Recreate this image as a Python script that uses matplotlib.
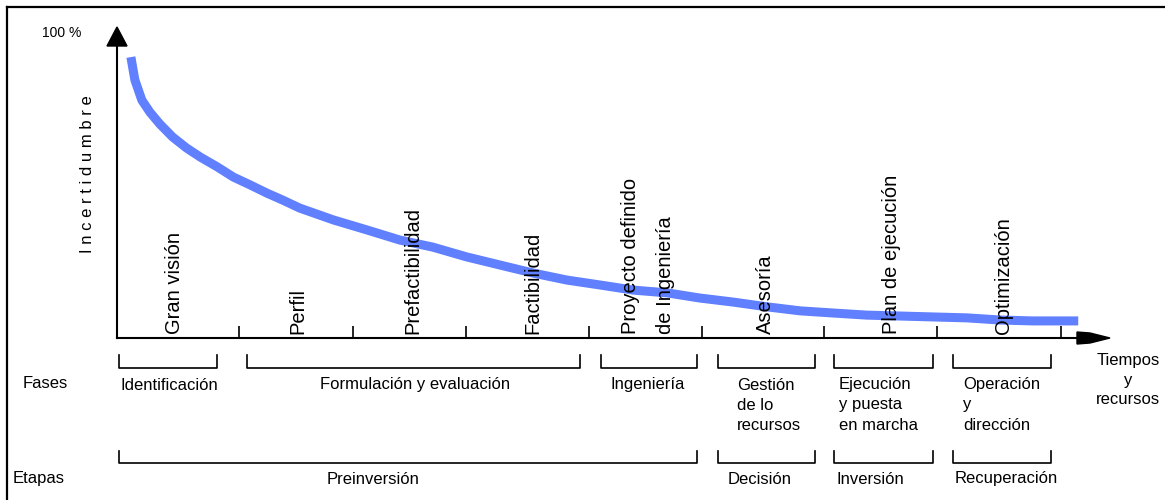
import matplotlib.pyplot as plt
from matplotlib.patches import Polygon

plt.rcParams['font.family'] = ['Liberation Sans', 'DejaVu Sans']

# Curva de incertidumbre (tiempo 0-100, incertidumbre en %)
curve_t = [1.4, 1.8, 2.5, 3.3, 4.3, 5.6, 7.0, 8.4, 10.1, 11.7, 13.4, 15.1, 16.7, 18.4,
           21.8, 25.2, 28.5, 31.8, 35.2, 38.6, 41.9, 45.3, 48.6, 52.0, 55.4, 58.7,
           62.0, 65.5, 68.8, 72.1, 75.5, 78.9, 82.2, 85.6, 88.9, 92.2, 96.8]
curve_pct = [92.1, 84.6, 78.0, 74.1, 70.2, 65.9, 62.3, 59.3, 56.1, 52.8, 50.2, 47.5, 45.2, 42.6,
             38.7, 35.4, 32.1, 29.8, 26.6, 23.9, 21.3, 19.0, 17.4, 15.7, 14.8, 13.1,
             11.8, 10.2, 8.9, 8.2, 7.5, 7.2, 6.9, 6.6, 5.9, 5.6, 5.6]

# Marcas en el eje de tiempo
tick_t = [12.3, 23.8, 35.1, 47.5, 58.9, 71.2, 82.6, 95.1]

# Etiquetas verticales sobre el eje
stage_names = ["Gran visión", "Perfil", "Prefactibilidad", "Factibilidad",
               "Proyecto definido", "de Ingeniería", "Asesoría",
               "Plan de ejecución", "Optimización"]
stage_t = [5.8, 18.2, 29.8, 41.9, 51.7, 55.2, 65.3, 78.0, 89.3]

# Fases (texto, inicio y fin de la llave en px, posición del texto, alineación)
fases = [
    (["Identificación"], 119, 217, 169, "center"),
    (["Formulación y evaluación"], 247, 580, 415, "center"),
    (["Ingeniería"], 601, 697, 648, "center"),
    (["Gestión", "de lo", "recursos"], 718, 815, 737, "left"),
    (["Ejecución", "y puesta", "en marcha"], 834, 933, 839, "left"),
    (["Operación", "y", "dirección"], 953, 1051, 963, "left"),
]
etapas = [
    ("Preinversión", 119, 697, 373),
    ("Decisión", 718, 815, 760),
    ("Inversión", 834, 933, 870),
    ("Recuperación", 953, 1051, 1006),
]

W, H = 1165, 500
fig = plt.figure(figsize=(W / 100, H / 100), dpi=100)

# capa en pixeles para marco, ejes y llaves
ov = fig.add_axes([0, 0, 1, 1])
ov.set_xlim(0, W)
ov.set_ylim(H, 0)
ov.axis("off")

# grafico principal: origen en (117, 338), 100 % en y=33
x0, x1, y0, y1 = 117, 1110, 338, 33
ax = fig.add_axes([x0 / W, (H - y0) / H, (x1 - x0) / W, (y0 - y1) / H])
ax.set_xlim(0, 100)
ax.set_ylim(0, 100)
ax.axis("off")
ax.patch.set_alpha(0)

# marco
ov.plot([7, W], [7, 7], color="black", lw=1.6)
ov.plot([7, 7], [7, H], color="black", lw=1.6)

# ejes con flechas
ov.plot([x0, x0], [y0, 44], color="black", lw=1.5)
ov.plot([x0, 1080], [y0, y0], color="black", lw=1.5)
ov.add_patch(Polygon([[107, 46], [127, 46], [117, 27]], closed=True, color="black"))
ov.add_patch(Polygon([[1077, 332], [1090, 333], [1110, 338], [1090, 343], [1077, 344]],
                     closed=True, color="black"))

# marcas
ax.vlines(tick_t, 0, 3.9, color="black", lw=1.2)

# curva
ax.plot(curve_t, curve_pct, color="#6080ff", lw=6.5, solid_capstyle="butt", zorder=3)

# etiquetas verticales
for name, t in zip(stage_names, stage_t):
    ax.text(t, 1.3, name, rotation=90, ha="center", va="bottom", fontsize=14.5, zorder=4)

ov.text(62, 33, "100 %", ha="center", va="center", fontsize=10)
ov.text(88, 174, "I n c e r t i d u m b r e", rotation=90, ha="center", va="center",
        fontsize=12)

# fases
ov.text(45, 384, "Fases", ha="center", va="center", fontsize=12)
for lines, a, b, tx, al in fases:
    ov.plot([a, a, b, b], [355, 368, 368, 355], color="black", lw=1.2)
    for i, line in enumerate(lines):
        ov.text(tx, 385 + 20 * i, line, ha=al, va="center", fontsize=12)

for i, line in enumerate(["Tiempos", "y", "recursos"]):
    ov.text(1128, 360 + 20 * i, line, ha="center", va="center", fontsize=12)

# etapas
ov.text(39, 478, "Etapas", ha="center", va="center", fontsize=12)
for name, a, b, tx in etapas:
    ov.plot([a, a, b, b], [451, 463, 463, 451], color="black", lw=1.2)
    ov.text(tx, 479, name, ha="center", va="center", fontsize=12)

fig.savefig("out.png", dpi=100)
